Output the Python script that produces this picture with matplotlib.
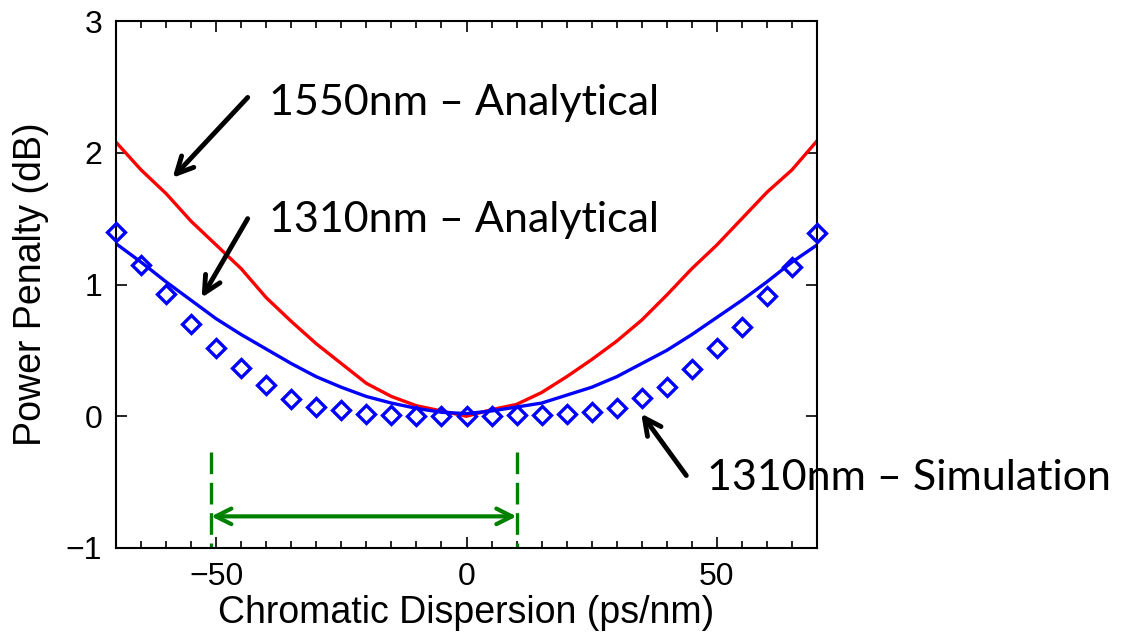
import matplotlib
matplotlib.use("Agg")
import matplotlib.pyplot as plt
from matplotlib.ticker import MultipleLocator

# dispersion grid (ps/nm)
dispersion = [-70, -65, -60, -55, -50, -45, -40, -35, -30, -25, -20, -15, -10, -5,
              0, 5, 10, 15, 20, 25, 30, 35, 40, 45, 50, 55, 60, 65, 70]

# 1550nm analytical power penalty (dB)
pp_1550_analytical = [2.08, 1.87, 1.69, 1.48, 1.30, 1.12, 0.90, 0.72, 0.55, 0.40,
                      0.25, 0.15, 0.08, 0.04, 0.00, 0.05, 0.09, 0.18, 0.30, 0.43,
                      0.57, 0.73, 0.92, 1.12, 1.30, 1.50, 1.70, 1.87, 2.09]

# 1310nm analytical power penalty (dB)
pp_1310_analytical = [1.31, 1.17, 1.02, 0.88, 0.74, 0.62, 0.51, 0.40, 0.30, 0.22,
                      0.15, 0.10, 0.06, 0.03, 0.02, 0.04, 0.07, 0.10, 0.16, 0.22,
                      0.30, 0.40, 0.50, 0.62, 0.75, 0.88, 1.02, 1.17, 1.30]

# 1310nm simulation power penalty (dB)
pp_1310_simulation = [1.40, 1.15, 0.93, 0.70, 0.52, 0.37, 0.24, 0.13, 0.07, 0.045,
                      0.02, 0.01, 0.00, 0.00, 0.00, 0.00, 0.01, 0.01, 0.02, 0.035,
                      0.06, 0.14, 0.22, 0.36, 0.52, 0.68, 0.91, 1.13, 1.39]

# dispersion tolerance window
window = [-51, 10]

# label, arrow tip, arrow tail, text anchor (left, baseline)
annotations = [
    ("1550nm – Analytical", (-58.7, 1.81), (-43.7, 2.42), (-39.5, 2.285)),
    ("1310nm – Analytical", (-52.9, 0.90), (-43.7, 1.50), (-39.5, 1.40)),
    ("1310nm – Simulation", (34.9, 0.02), (43.9, -0.45), (48.0, -0.56)),
]

plt.rcParams["font.family"] = ["Liberation Sans", "DejaVu Sans"]

fig = plt.figure(figsize=(11.21, 6.33), dpi=100)
ax = fig.add_axes([0.1035, 0.1343, 0.6253, 0.8325])

ax.plot(dispersion, pp_1550_analytical, color="red", lw=2.4)
ax.plot(dispersion, pp_1310_analytical, color="blue", lw=2.4)
ax.plot(dispersion, pp_1310_simulation, ls="none", marker="D", ms=9.5,
        mfc="none", mec="blue", mew=2.4, clip_on=False, zorder=3)

# tolerance window: dashed limits (drawn top-down) and double arrow
for xv in window:
    ax.plot([xv, xv], [-0.27, -1], color="green", ls=(0, (6.5, 2.6)), lw=2.4)
ax.annotate("", xy=(window[0], -0.76), xytext=(window[1], -0.76),
            arrowprops=dict(arrowstyle="<->", color="green", lw=3,
                            mutation_scale=28, shrinkA=0, shrinkB=0))

for label, tip, tail, txt in annotations:
    ax.annotate("", xy=tip, xytext=tail,
                arrowprops=dict(arrowstyle="->", color="black", lw=3.5,
                                mutation_scale=30, shrinkA=0, shrinkB=0),
                annotation_clip=False)
    ax.text(txt[0], txt[1], label, family=["Lato", "DejaVu Sans"],
            fontsize=31, va="baseline", ha="left", clip_on=False)

ax.set_xlim(-70, 70)
ax.set_ylim(-1, 3)
ax.xaxis.set_major_locator(MultipleLocator(50))
ax.xaxis.set_minor_locator(MultipleLocator(5))
ax.yaxis.set_major_locator(MultipleLocator(1))
ax.tick_params(which="both", direction="in", top=True, right=True,
               labelsize=23, width=1.2)
ax.tick_params(which="major", length=8, pad=10)
ax.tick_params(which="minor", length=5)
for side in ax.spines.values():
    side.set_linewidth(1.5)

ax.set_xlabel("Chromatic Dispersion (ps/nm)", fontsize=27, labelpad=2)
ax.set_ylabel("Power Penalty (dB)", fontsize=27, labelpad=12)

fig.savefig("out.png", dpi=100)
